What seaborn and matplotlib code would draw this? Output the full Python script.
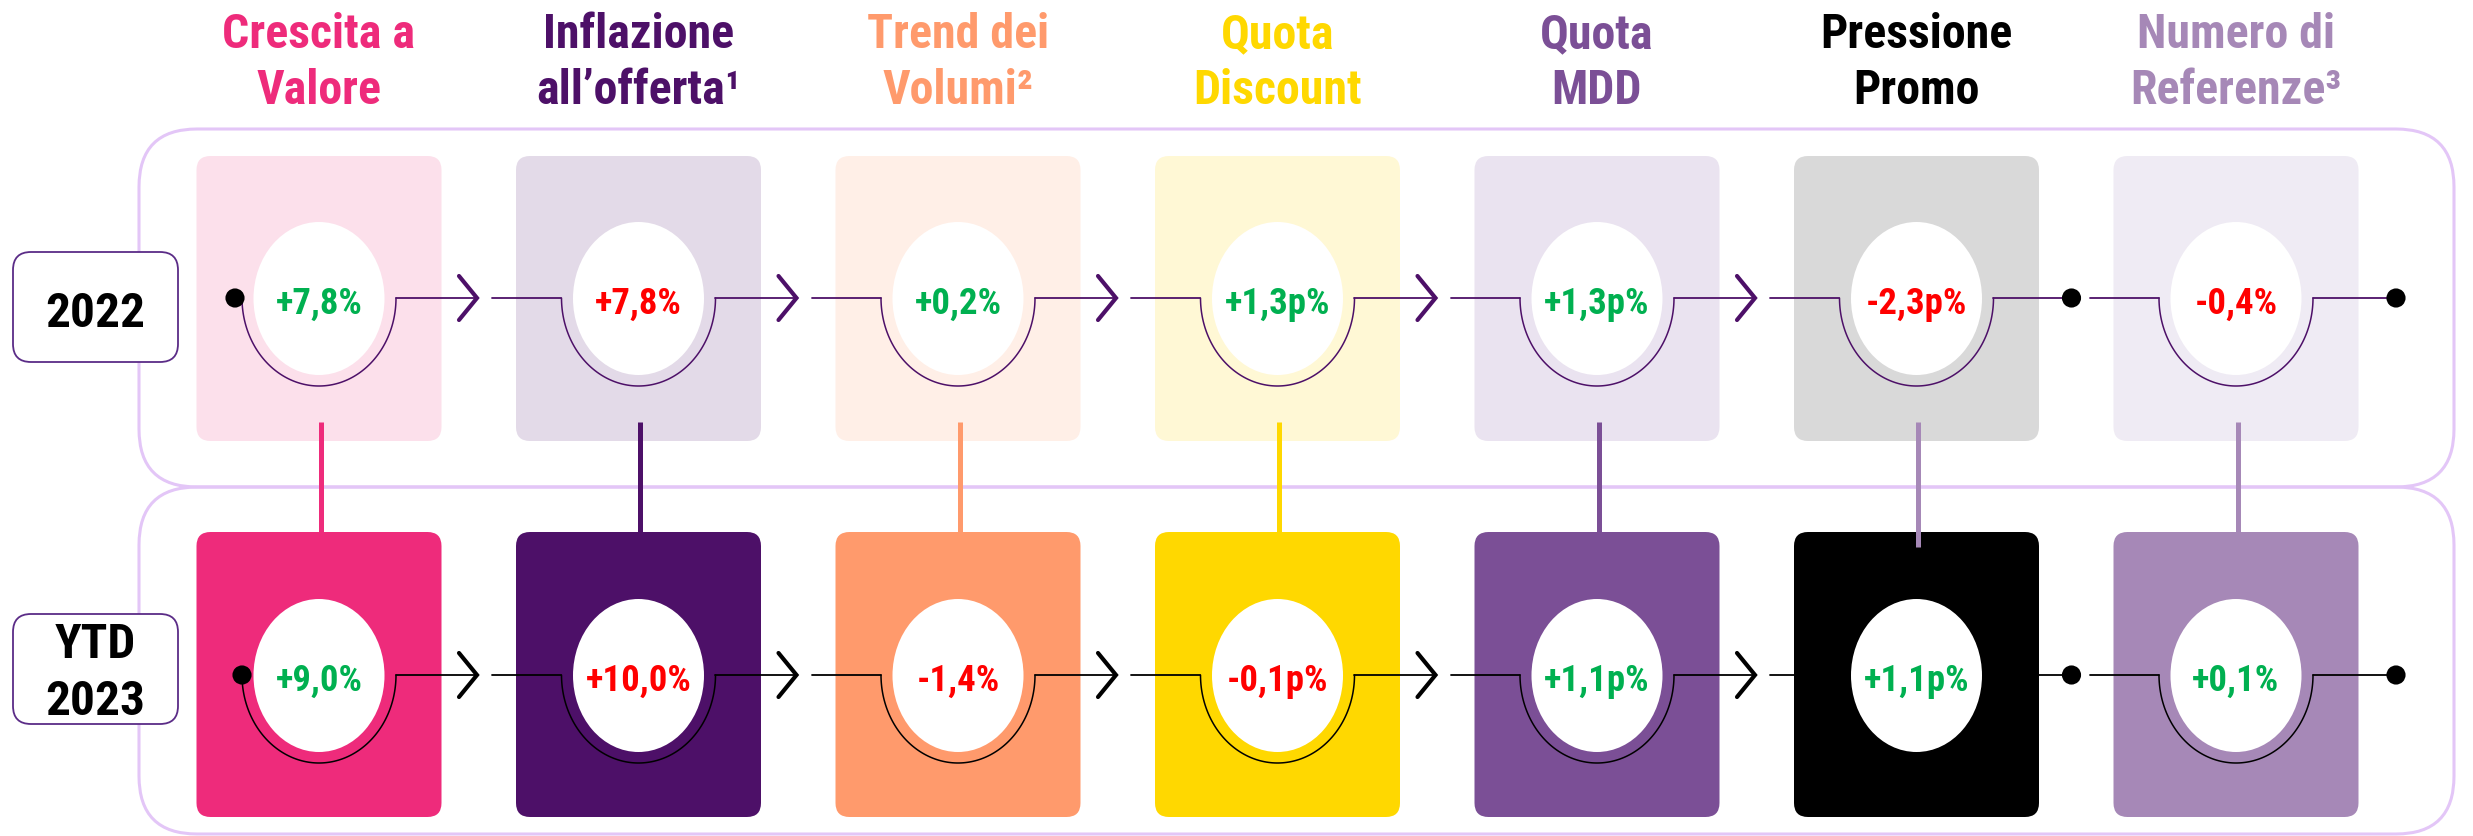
# plot.py
import numpy as np
import seaborn as sns
import matplotlib.pyplot as plt
from matplotlib.patches import FancyBboxPatch, Ellipse

# 1. Style (font list set after seaborn, which resets font.family)
sns.set_style("white")
plt.rcParams["font.family"] = ["Roboto Condensed", "Barlow Condensed", "DejaVu Sans"]

# 2. Data
title_line1 = ["Crescita a", "Inflazione", "Trend dei", "Quota", "Quota", "Pressione", "Numero di"]
title_line2 = ["Valore", "all’offerta¹", "Volumi²", "Discount", "MDD", "Promo", "Referenze³"]
period_labels = [["2022"], ["YTD", "2023"]]
values_2022 = ["+7,8%", "+7,8%", "+0,2%", "+1,3p%", "+1,3p%", "-2,3p%", "-0,4%"]
values_2023 = ["+9,0%", "+10,0%", "-1,4%", "-0,1p%", "+1,1p%", "+1,1p%", "+0,1%"]
good_2022 = [True, False, True, True, True, False, False]
good_2023 = [True, False, False, False, True, True, True]

main_colors = ["#EE2B7B", "#4D1068", "#FF9A6C", "#FFD800", "#7B4F96", "#000000", "#A688B7"]
light_colors = ["#FCE0EB", "#E3DAE8", "#FFEFE7", "#FFF8D5", "#EAE3F0", "#D9D9D9", "#EFEBF4"]
link_colors = ["#EE2B7B", "#4D1068", "#FF9A6C", "#FFD800", "#7B4F96", "#A688B7", "#A688B7"]
GREEN, RED = "#00B050", "#FF0000"
FRAME = "#E3C6F7"

# 3. Layout (pixel units, y pointing down)
W, H = 2473, 837
centers = 319 + 319.5 * np.arange(len(title_line1))
row_y = [299, 676]
box_top = [157, 533]
box_w, box_h = 245, 285
row_line = ["#4D1068", "#000000"]

fig = plt.figure(figsize=(W / 100, H / 100), dpi=100)
ax = fig.add_axes([0, 0, 1, 1])

# outer frames
for y0, y1 in [(130, 488), (488, 835)]:
    ax.add_patch(FancyBboxPatch((139, y0), 2454 - 139, y1 - y0,
                                boxstyle="round,pad=0,rounding_size=58",
                                fc="none", ec=FRAME, lw=2.2, zorder=1))

# titles
for i, c in enumerate(centers):
    for txt, yb in [(title_line1[i], 48), (title_line2[i], 104)]:
        ax.text(c, yb, txt, ha="center", va="baseline", fontsize=34.5,
                fontweight="bold", color=main_colors[i])

dots_x, dots_y = [], []
t = np.linspace(0, np.pi, 120)
for r, (vals, good) in enumerate([(values_2022, good_2022), (values_2023, good_2023)]):
    y = row_y[r]
    lc = row_line[r]
    for i, c in enumerate(centers):
        fill = light_colors[i] if r == 0 else main_colors[i]
        ax.add_patch(FancyBboxPatch((c - box_w / 2, box_top[r]), box_w, box_h,
                                    boxstyle="round,pad=0,rounding_size=14",
                                    fc=fill, ec="none", zorder=2))
        ax.add_patch(Ellipse((c, y + 0.5), 131, 153, fc="white", ec="none", zorder=4))
        # U-shaped path under the value
        ax.plot(c + 77 * np.cos(t), y + 88 * np.sin(t), color=lc, lw=1.1, zorder=5)
        # left side: start dot or incoming line
        if i == 0:
            dots_x.append(c - (84 if r == 0 else 77))
            dots_y.append(y)
        else:
            ax.plot([c - 146, c - 77], [y, y], color=lc, lw=1.3, zorder=5)
        # right side: arrow or end dot
        if i < 5:
            tip = c + 158
            ax.plot([c + 77, tip], [y, y], color=lc, lw=1.3, zorder=5)
            ax.plot([tip - 18, tip, tip - 18], [y - 22, y, y + 22], color=lc, lw=3,
                    solid_capstyle="round", solid_joinstyle="miter", zorder=5)
        else:
            end = c + (155 if i == 5 else 160)
            ax.plot([c + 77, end], [y, y], color=lc, lw=1.3, zorder=5)
            dots_x.append(end)
            dots_y.append(y)
        ax.text(c, y + 15, vals[i], ha="center", va="baseline", fontsize=26.5,
                fontweight="bold", color=GREEN if good[i] else RED, zorder=7)

# vertical links between the two rows
for i, c in enumerate(centers):
    ax.plot([c + 2, c + 2], [423, 548], color=link_colors[i], lw=3.6,
            solid_capstyle="butt", zorder=3)

# path end points
sns.scatterplot(x=dots_x, y=dots_y, ax=ax, color="black", s=190,
                edgecolor="none", legend=False, zorder=6)

# period labels
for r, (y0, lines) in enumerate(zip([253, 615], period_labels)):
    ax.add_patch(FancyBboxPatch((13, y0), 165, 110, boxstyle="round,pad=0,rounding_size=18",
                                fc="white", ec="#5B2C87", lw=1.3, zorder=3))
    baselines = [327] if len(lines) == 1 else [658, 715]
    for txt, yb in zip(lines, baselines):
        ax.text(95, yb, txt, ha="center", va="baseline", fontsize=35.5,
                fontweight="bold", color="black", zorder=4)

ax.set_xlim(0, W)
ax.set_ylim(H, 0)
ax.axis("off")

plt.savefig("out.png", dpi=100)
